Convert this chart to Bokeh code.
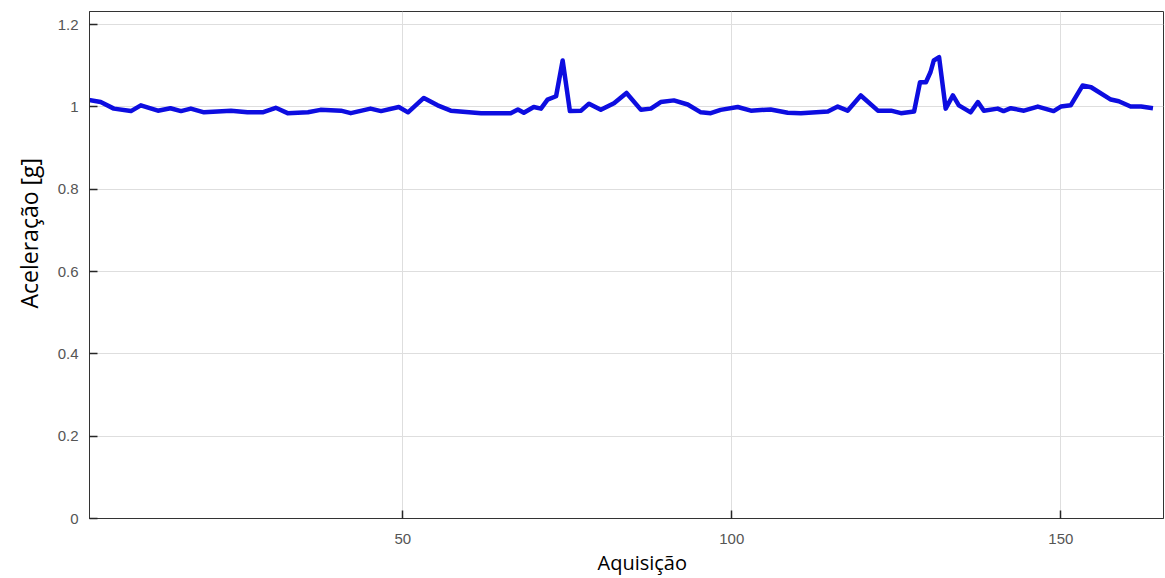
from bokeh.plotting import figure
from bokeh.models import Range1d, FixedTicker, CustomJSTickFormatter, Title
from bokeh.embed import file_html
from bokeh.resources import INLINE

# Acquisition index and acceleration [g]
aquisicao = [2.3, 4.1, 6.1, 8.7, 10.2, 12.8, 14.7, 16.3, 17.8, 19.8, 23.9, 26.4, 28.7,
             30.7, 32.5, 35.6, 37.5, 40.6, 42.1, 45.1, 46.7, 49.4, 50.8, 53.2, 55.3,
             57.3, 61.9, 66.4, 67.5, 68.4, 69.9, 71.0, 72.0, 73.3, 74.3, 75.4, 77.1,
             78.3, 80.1, 82.1, 84.0, 86.2, 87.7, 89.2, 91.2, 93.3, 95.3, 96.8, 98.3,
             100.9, 102.9, 105.9, 108.5, 110.5, 114.6, 116.1, 117.6, 119.6, 122.2,
             124.2, 125.7, 127.7, 128.6, 129.5, 130.2, 130.7, 131.5, 132.5, 133.6,
             134.5, 136.3, 137.4, 138.3, 140.4, 141.3, 142.4, 144.4, 146.5, 148.9,
             150.0, 151.5, 153.3, 154.6, 157.6, 158.8, 160.6, 162.2, 164.0]
aceleracao = [1.017, 1.012, 0.996, 0.990, 1.004, 0.991, 0.997, 0.990, 0.996, 0.987,
              0.991, 0.987, 0.987, 0.998, 0.985, 0.987, 0.993, 0.991, 0.985, 0.996,
              0.990, 1.000, 0.987, 1.022, 1.004, 0.991, 0.985, 0.985, 0.994, 0.986,
              1.000, 0.996, 1.018, 1.026, 1.113, 0.990, 0.991, 1.008, 0.993, 1.009,
              1.034, 0.993, 0.996, 1.012, 1.016, 1.006, 0.987, 0.985, 0.993, 1.000,
              0.991, 0.994, 0.986, 0.985, 0.989, 1.001, 0.991, 1.028, 0.991, 0.991,
              0.985, 0.989, 1.060, 1.060, 1.085, 1.113, 1.121, 0.996, 1.028, 1.004,
              0.987, 1.012, 0.991, 0.996, 0.990, 0.997, 0.991, 1.001, 0.990, 1.001,
              1.004, 1.052, 1.048, 1.018, 1.014, 1.001, 1.001, 0.997]

x_ticks = [50, 100, 150]
y_ticks = [0, 0.2, 0.4, 0.6, 0.8, 1.0, 1.2]
x_title = "Aquisição"
y_title = "Aceleração [g]"

p = figure(width=1165, height=578, output_backend="svg", toolbar_location=None,
           x_range=Range1d(2.4, 165.6), y_range=Range1d(0, 1.232),
           min_border_left=89, min_border_right=2, min_border_top=11, min_border_bottom=60)

p.line(aquisicao, aceleracao, line_color="#0d0de0", line_width=4.5, line_join="round")

fmt = CustomJSTickFormatter(code="return tick.toFixed(1).replace(/\\.0$/, '');")

for ax in [p.xaxis[0], p.yaxis[0]]:
    ax.major_tick_in = 8
    ax.major_tick_out = 0
    ax.minor_tick_in = 0
    ax.minor_tick_out = 0
    ax.axis_line_color = "#333333"
    ax.major_tick_line_color = "#262626"
    ax.major_tick_line_width = 1.5
    ax.major_label_text_color = "#555555"
    ax.major_label_text_font = "Liberation Sans"
    ax.major_label_text_font_size = "15px"

p.xaxis.ticker = FixedTicker(ticks=x_ticks)
p.yaxis.ticker = FixedTicker(ticks=y_ticks)
p.yaxis.formatter = fmt
p.yaxis.major_label_standoff = 11
p.xaxis.major_label_standoff = 15

# axis titles as side titles so they can be shifted like in the reference
p.add_layout(Title(text=x_title, align="left", offset=508, text_font="Open Sans",
                   text_font_size="20px", text_font_style="normal",
                   text_color="#000000", standoff=0), "below")
p.add_layout(Title(text=y_title, align="left", offset=210, text_font="Open Sans",
                   text_font_size="23px", text_font_style="normal",
                   text_color="#000000", standoff=19), "left")

p.xgrid.ticker = FixedTicker(ticks=x_ticks)
p.ygrid.ticker = FixedTicker(ticks=y_ticks)
p.xgrid.grid_line_color = "#dedede"
p.ygrid.grid_line_color = "#dedede"

p.outline_line_color = "#333333"
p.outline_line_width = 1
p.background_fill_color = "white"
p.border_fill_color = "white"

open("out.html", "w").write(file_html(p, INLINE))
